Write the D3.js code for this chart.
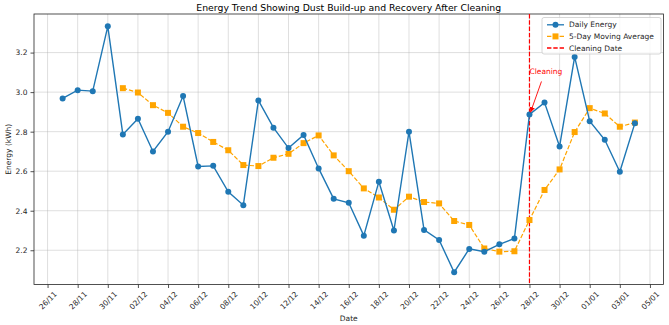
<!DOCTYPE html>
<html>
<head>
<meta charset="utf-8">
<script src="https://cdn.jsdelivr.net/npm/d3@7"></script>
<style>
  body { margin: 0; background: #fff; }
  svg text { font-family: "DejaVu Sans", sans-serif; fill: #262626; }
</style>
</head>
<body>
<div id="chart"></div>
<script>
// daily readings, 27/11 -> 04/01
const days = [
    "27/11", "28/11", "29/11", "30/11", "01/12", "02/12", "03/12", "04/12", "05/12", "06/12",
    "07/12", "08/12", "09/12", "10/12", "11/12", "12/12", "13/12", "14/12", "15/12", "16/12",
    "17/12", "18/12", "19/12", "20/12", "21/12", "22/12", "23/12", "24/12", "25/12", "26/12",
    "27/12", "28/12", "29/12", "30/12", "31/12", "01/01", "02/01", "03/01", "04/01"
];
const dailyEnergy = [
    2.968, 3.01, 3.005, 3.333, 2.786, 2.865, 2.70, 2.80, 2.98, 2.624,
    2.627, 2.496, 2.428, 2.958, 2.82, 2.717, 2.783, 2.614, 2.46, 2.44,
    2.274, 2.547, 2.30, 2.80, 2.303, 2.252, 2.089, 2.207, 2.193, 2.23,
    2.26, 2.887, 2.947, 2.725, 3.178, 2.853, 2.759, 2.597, 2.843
];
// moving average starts on the 5th day (01/12)
const movingAvg = [
    3.02, 2.998, 2.934, 2.895, 2.825, 2.793, 2.748, 2.706, 2.631, 2.626,
    2.668, 2.688, 2.742, 2.781, 2.68, 2.60, 2.513, 2.467, 2.405, 2.471,
    2.444, 2.437, 2.348, 2.328, 2.209, 2.193, 2.195, 2.353, 2.505, 2.609,
    2.798, 2.919, 2.892, 2.825, 2.846
];
const xTickLabels = ["26/11", "28/11", "30/11", "02/12", "04/12", "06/12", "08/12", "10/12", "12/12", "14/12",
    "16/12", "18/12", "20/12", "22/12", "24/12", "26/12", "28/12", "30/12", "01/01", "03/01", "05/01"];
const yTicks = [2.2, 2.4, 2.6, 2.8, 3.0, 3.2];
const cleaningDay = "28/12";

const parseDay = s => {
    const [d, m] = s.split("/").map(Number);
    return new Date(Date.UTC(m === 1 ? 2025 : 2024, m - 1, d));
};

const width = 669, height = 325;
const margin = { top: 14, right: 5.5, bottom: 40.5, left: 34 };

const svg = d3.select("#chart").append("svg")
    .attr("width", width)
    .attr("height", height);

// matplotlib style 5% padding
const xExt = d3.extent(days, parseDay);
const xPad = (xExt[1] - xExt[0]) * 0.05;
const x = d3.scaleUtc()
    .domain([new Date(+xExt[0] - xPad), new Date(+xExt[1] + xPad)])
    .range([margin.left, width - margin.right]);

const yExt = d3.extent(dailyEnergy.concat(movingAvg));
const yPad = (yExt[1] - yExt[0]) * 0.05;
const y = d3.scaleLinear()
    .domain([yExt[0] - yPad, yExt[1] + yPad])
    .range([height - margin.bottom, margin.top]);

const tickDates = xTickLabels.map(parseDay);

// grid
const grid = svg.append("g").attr("stroke", "#b0b0b0").attr("stroke-opacity", 0.5).attr("stroke-width", 0.8);
grid.selectAll(".vx").data(tickDates).enter().append("line")
    .attr("x1", d => x(d)).attr("x2", d => x(d))
    .attr("y1", margin.top).attr("y2", height - margin.bottom);
grid.selectAll(".hy").data(yTicks).enter().append("line")
    .attr("x1", margin.left).attr("x2", width - margin.right)
    .attr("y1", d => y(d)).attr("y2", d => y(d));

// axes
const xAxis = svg.append("g")
    .attr("transform", `translate(0,${height - margin.bottom})`)
    .call(d3.axisBottom(x).tickValues(tickDates).tickSize(3.5).tickPadding(2).tickFormat((d, i) => xTickLabels[i]));
xAxis.select(".domain").remove();
xAxis.selectAll("line").attr("stroke", "#262626").attr("stroke-width", 0.8);
xAxis.selectAll("text")
    .attr("font-size", 7.5)
    .attr("text-anchor", "middle")
    .attr("dy", null)
    .attr("y", null)
    .attr("dominant-baseline", "central")
    .attr("transform", "translate(0,16) rotate(-45)");

const yAxis = svg.append("g")
    .attr("transform", `translate(${margin.left},0)`)
    .call(d3.axisLeft(y).tickValues(yTicks).tickSize(3.5).tickPadding(3).tickFormat(d3.format(".1f")));
yAxis.select(".domain").remove();
yAxis.selectAll("line").attr("stroke", "#262626").attr("stroke-width", 0.8);
yAxis.selectAll("text").attr("font-size", 7.5);

// frame
svg.append("rect")
    .attr("x", margin.left).attr("y", margin.top)
    .attr("width", width - margin.left - margin.right)
    .attr("height", height - margin.top - margin.bottom)
    .attr("fill", "none").attr("stroke", "#262626").attr("stroke-width", 0.8);

// cleaning date line
svg.append("line")
    .attr("x1", x(parseDay(cleaningDay))).attr("x2", x(parseDay(cleaningDay)))
    .attr("y1", margin.top).attr("y2", height - margin.bottom)
    .attr("stroke", "red").attr("stroke-width", 1.2).attr("stroke-dasharray", "4.4,1.9");

// moving average
const maDays = days.slice(days.length - movingAvg.length);
const maData = maDays.map((d, i) => ({ date: parseDay(d), value: movingAvg[i] }));
const line = d3.line().x(d => x(d.date)).y(d => y(d.value));
svg.append("path")
    .datum(maData)
    .attr("d", line)
    .attr("fill", "none").attr("stroke", "orange").attr("stroke-width", 1.2)
    .attr("stroke-dasharray", "4.4,1.9");
svg.selectAll(".ma").data(maData).enter().append("rect")
    .attr("x", d => x(d.date) - 3).attr("y", d => y(d.value) - 3)
    .attr("width", 6).attr("height", 6)
    .attr("fill", "orange");

// daily energy
const dailyData = days.map((d, i) => ({ date: parseDay(d), value: dailyEnergy[i] }));
svg.append("path")
    .datum(dailyData)
    .attr("d", line)
    .attr("fill", "none").attr("stroke", "#1f77b4").attr("stroke-width", 1.4);
svg.selectAll(".daily").data(dailyData).enter().append("circle")
    .attr("cx", d => x(d.date)).attr("cy", d => y(d.value))
    .attr("r", 3).attr("fill", "#1f77b4");

// annotation
const cleanIdx = days.indexOf(cleaningDay);
const px = x(parseDay(cleaningDay)), py = y(dailyEnergy[cleanIdx]);
svg.append("defs").append("marker")
    .attr("id", "arrow").attr("viewBox", "0 0 10 10")
    .attr("refX", 10).attr("refY", 5)
    .attr("markerWidth", 6).attr("markerHeight", 6)
    .attr("orient", "auto-start-reverse")
    .append("path").attr("d", "M0,0 L10,5 L0,10 z").attr("fill", "red");
svg.append("line")
    .attr("x1", px + 12).attr("y1", py - 33)
    .attr("x2", px + 1).attr("y2", py - 2)
    .attr("stroke", "red").attr("stroke-width", 0.9)
    .attr("marker-end", "url(#arrow)");
svg.append("text")
    .attr("x", px).attr("y", py - 40)
    .attr("font-size", 7.5)
    .style("fill", "red")
    .text("Cleaning");

// labels
svg.append("text")
    .attr("x", (margin.left + width - margin.right) / 2).attr("y", 10.5)
    .attr("text-anchor", "middle").attr("font-size", 9.3)
    .style("fill", "#000")
    .text("Energy Trend Showing Dust Build-up and Recovery After Cleaning");
svg.append("text")
    .attr("x", (margin.left + width - margin.right) / 2).attr("y", 321)
    .attr("text-anchor", "middle").attr("font-size", 7.5)
    .text("Date");
svg.append("text")
    .attr("transform", `translate(11,${(margin.top + height - margin.bottom) / 2}) rotate(-90)`)
    .attr("text-anchor", "middle").attr("font-size", 7.5)
    .text("Energy (kWh)");

// legend
const legendItems = [
    { label: "Daily Energy", color: "#1f77b4", dash: null, marker: "circle" },
    { label: "5-Day Moving Average", color: "orange", dash: "4.4,1.9", marker: "square" },
    { label: "Cleaning Date", color: "red", dash: "4.4,1.9", marker: null }
];
const lg = svg.append("g").attr("transform", "translate(542,17.5)");
lg.append("rect")
    .attr("width", 119).attr("height", 36.5).attr("rx", 2)
    .attr("fill", "#fff").attr("fill-opacity", 0.8)
    .attr("stroke", "#cccccc").attr("stroke-width", 0.8);
legendItems.forEach((d, i) => {
    const gy = 7.3 + i * 11.6;
    const g = lg.append("g").attr("transform", `translate(0,${gy})`);
    g.append("line").attr("x1", 5).attr("x2", 22).attr("y1", 0).attr("y2", 0)
        .attr("stroke", d.color).attr("stroke-width", 1.3)
        .attr("stroke-dasharray", d.dash);
    if (d.marker === "circle") g.append("circle").attr("cx", 13.5).attr("r", 3).attr("fill", d.color);
    if (d.marker === "square") g.append("rect").attr("x", 10.5).attr("y", -3).attr("width", 6).attr("height", 6).attr("fill", d.color);
    g.append("text").attr("x", 27).attr("y", 0).attr("dominant-baseline", "central")
        .attr("font-size", 7.5).text(d.label);
});
</script>
</body>
</html>
